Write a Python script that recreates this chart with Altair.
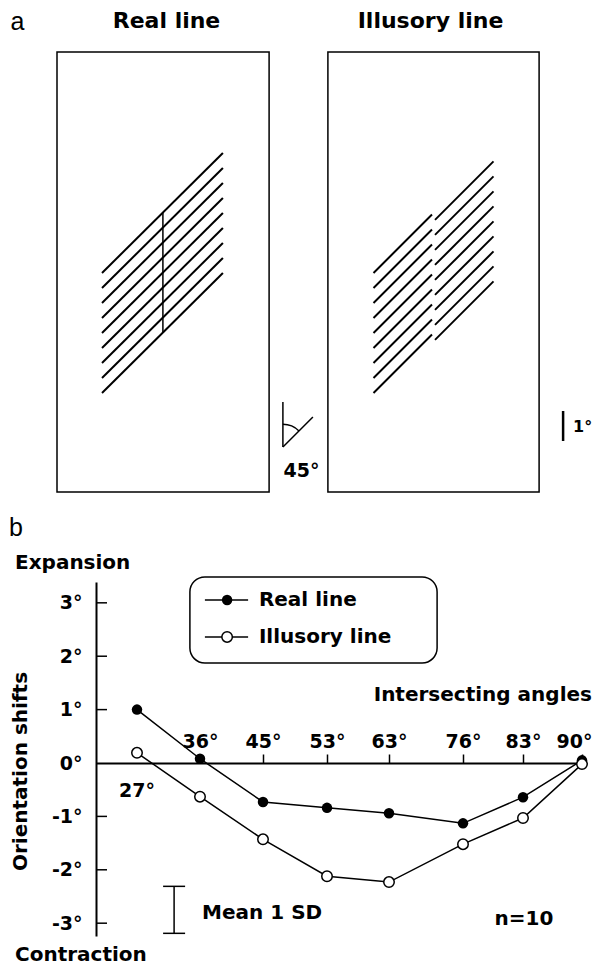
import altair as alt
import pandas as pd

# ---------------- Panel b values ----------------
angles = [27, 36, 45, 53, 63, 76, 83, 90]
real_shift = [1.00, 0.08, -0.73, -0.84, -0.94, -1.13, -0.64, 0.05]
illusory_shift = [0.19, -0.63, -1.43, -2.12, -2.23, -1.52, -1.03, -0.02]
y_tick_values = [-3, -2, -1, 0, 1, 2, 3]
y_inner_ticks = [-3, -2, -1, 1, 2, 3]
x_label_values = [36, 45, 53, 63, 76, 83, 90]
sd_angle = 32.3
sd_low = -3.19
sd_high = -2.31

# ---------------- Panel a stimulus geometry (degrees of visual angle) ----------------
frame_x0 = [0.0, 9.03]
frame_x1 = [7.07, 16.07]
frame_y0 = [0.0, 0.0]
frame_y1 = [14.67, 14.67]
line_steps = [0.0, 0.5, 1.0, 1.5, 2.0, 2.5, 3.0, 3.5, 4.0]
real_seg_x = [1.5, 5.53]
real_seg_y = [7.3, 11.3]
real_vert_x = [3.53, 3.53]
real_vert_y = [5.3, 9.3]
ill_left_x = [10.55, 12.5]
ill_left_y = [7.3, 9.25]
ill_right_x = [12.6, 14.55]
ill_right_y = [9.07, 11.02]
angle_vert_x = [7.53, 7.53]
angle_vert_y = [1.5, 3.0]
angle_diag_x = [7.53, 8.53]
angle_diag_y = [1.5, 2.5]
scalebar_x = [16.87, 16.87]
scalebar_y = [1.7, 2.7]

# ---------------- scales ----------------
A_xs = alt.Scale(domain=[0, 20], range=[-39, 561], nice=False, zero=False)
A_ys = alt.Scale(domain=[0, 20], range=[-90, -690], nice=False, zero=False)
XA = alt.X("x:Q", scale=A_xs, axis=None)
YA = alt.Y("y:Q", scale=A_ys, axis=None)

B_xs = alt.Scale(domain=[21.1] + angles,
                 range=[0, 41, 104, 167, 231, 293, 367, 427, 486],
                 nice=False, zero=False)
B_ys = alt.Scale(domain=[-3.24, 3.39], nice=False, zero=False)

BOLD = "DejaVu Sans"
x_axis = alt.Axis(orient="top", offset=-181, values=x_label_values,
                  labelExpr="datum.value + '°'", title=None, tickSize=9,
                  tickWidth=1.5, tickColor="black", domainWidth=2, domainColor="black",
                  labelFont=BOLD, labelFontWeight="bold", labelFontSize=19,
                  labelColor="black", labelPadding=3, grid=False,
                  labelFlush=True, labelFlushOffset=10, labelOverlap=False, zindex=0)
y_axis = alt.Axis(orient="left", values=y_tick_values,
                  labelExpr="datum.value + '°'", ticks=False, domainWidth=2,
                  domainColor="black", labelPadding=14, labelFont=BOLD,
                  labelFontWeight="bold", labelFontSize=19, labelColor="black",
                  title="Orientation shifts", titleX=-76, titleY=189, titleAngle=270,
                  titleAlign="center", titleBaseline="middle", titleFont=BOLD,
                  titleFontWeight="bold", titleFontSize=20, titleColor="black",
                  grid=False, labelOverlap=False, zindex=0)
XB = alt.X("angle:Q", scale=B_xs, axis=x_axis)
YB = alt.Y("shift:Q", scale=B_ys, axis=y_axis)

# ---------------- panel a layers ----------------
rows = []
for s in line_steps:
    rows.append(dict(x=real_seg_x[0], x2=real_seg_x[1], y=real_seg_y[0] - s, y2=real_seg_y[1] - s))
    rows.append(dict(x=ill_left_x[0], x2=ill_left_x[1], y=ill_left_y[0] - s, y2=ill_left_y[1] - s))
    rows.append(dict(x=ill_right_x[0], x2=ill_right_x[1], y=ill_right_y[0] - s, y2=ill_right_y[1] - s))
stim_df = pd.DataFrame(rows)
stim = alt.Chart(stim_df).mark_rule(color="black", strokeWidth=2).encode(
    x=XA, y=YA, x2="x2:Q", y2="y2:Q")

thin_df = pd.DataFrame([
    dict(x=real_vert_x[0], x2=real_vert_x[1], y=real_vert_y[0], y2=real_vert_y[1]),
    dict(x=angle_vert_x[0], x2=angle_vert_x[1], y=angle_vert_y[0], y2=angle_vert_y[1]),
    dict(x=angle_diag_x[0], x2=angle_diag_x[1], y=angle_diag_y[0], y2=angle_diag_y[1]),
])
thin = alt.Chart(thin_df).mark_rule(color="black", strokeWidth=1.5).encode(
    x=XA, y=YA, x2="x2:Q", y2="y2:Q")

bar_df = pd.DataFrame([dict(x=scalebar_x[0], x2=scalebar_x[1], y=scalebar_y[0], y2=scalebar_y[1])])
sbar = alt.Chart(bar_df).mark_rule(color="black", strokeWidth=2.5).encode(
    x=XA, y=YA, x2="x2:Q", y2="y2:Q")

frames_df = pd.DataFrame(dict(x=frame_x0, x2=frame_x1, y=frame_y0, y2=frame_y1))
frames = alt.Chart(frames_df).mark_rect(fillOpacity=0, stroke="black", strokeWidth=1.5).encode(
    x=XA, y=YA, x2="x2:Q", y2="y2:Q")

arc_df = pd.DataFrame(dict(x=[angle_vert_x[0]], y=[angle_vert_y[0]]))
arc = alt.Chart(arc_df).mark_arc(radius=23.5, radius2=22, theta=0, theta2=0.785,
                                 color="black").encode(x=XA, y=YA)

# legend box (drawn in the figure frame)
legbox_df = pd.DataFrame(dict(x=[4.43], x2=[12.67], y=[-2.83], y2=[-5.7]))
legbox = alt.Chart(legbox_df).mark_rect(fillOpacity=0, stroke="black", strokeWidth=1.5,
                                        cornerRadius=15).encode(
    x=XA, y=YA, x2="x2:Q", y2="y2:Q")
legline_df = pd.DataFrame(dict(x=[4.93, 4.93], x2=[6.37, 6.37], y=[-3.6, -4.83], y2=[-3.6, -4.83]))
legline = alt.Chart(legline_df).mark_rule(color="black", strokeWidth=1.5).encode(
    x=XA, y=YA, x2="x2:Q", y2="y2:Q")
legdot_real = alt.Chart(pd.DataFrame(dict(x=[5.67], y=[-3.6]))).mark_point(
    filled=True, color="black", size=110, opacity=1).encode(x=XA, y=YA)
legdot_ill = alt.Chart(pd.DataFrame(dict(x=[5.67], y=[-4.83]))).mark_point(
    filled=True, fill="white", stroke="black", strokeWidth=1.5, size=110, opacity=1).encode(x=XA, y=YA)

def txt(df, **kw):
    return alt.Chart(df).mark_text(color="black", **kw).encode(x=XA, y=YA, text="t:N")

letters = txt(pd.DataFrame(dict(x=[-1.55, -1.6], y=[15.67, -1.2], t=["a", "b"])),
              font="Liberation Sans", fontSize=25, align="left", baseline="middle")
titles = txt(pd.DataFrame(dict(x=[3.65, 12.45], y=[15.69, 15.69], t=["Real line", "Illusory line"])),
             font=BOLD, fontWeight="bold", fontSize=22, align="center", baseline="middle")
side = txt(pd.DataFrame(dict(x=[-1.4, -1.4], y=[-2.37, -15.43], t=["Expansion", "Contraction"])),
           font=BOLD, fontWeight="bold", fontSize=20, align="left", baseline="middle")
deg45 = txt(pd.DataFrame(dict(x=[8.15], y=[0.7], t=["45°"])),
            font=BOLD, fontWeight="bold", fontSize=19, align="center", baseline="middle")
deg1 = txt(pd.DataFrame(dict(x=[17.2], y=[2.17], t=["1°"])),
           font=BOLD, fontWeight="bold", fontSize=16, align="left", baseline="middle")
legtxt = txt(pd.DataFrame(dict(x=[6.73, 6.73], y=[-3.6, -4.83], t=["Real line", "Illusory line"])),
             font=BOLD, fontWeight="bold", fontSize=20, align="left", baseline="middle")

groupA = alt.layer(frames, stim, thin, sbar, arc, legbox, legline, legdot_real, legdot_ill,
                   letters, titles, side, deg45, deg1, legtxt)

# ---------------- panel b layers ----------------
real_df = pd.DataFrame(dict(angle=angles, shift=real_shift))
ill_df = pd.DataFrame(dict(angle=angles, shift=illusory_shift))

real_line = alt.Chart(real_df).mark_line(color="black", strokeWidth=1.5).encode(x=XB, y=YB)
real_pts = alt.Chart(real_df).mark_point(filled=True, color="black", size=110, opacity=1).encode(x=XB, y=YB)
ill_line = alt.Chart(ill_df).mark_line(color="black", strokeWidth=1.5).encode(x=XB, y=YB)
ill_pts = alt.Chart(ill_df).mark_point(filled=True, fill="white", stroke="black", strokeWidth=1.5,
                                       size=110, opacity=1).encode(x=XB, y=YB)

inner_ticks = alt.Chart(pd.DataFrame(dict(shift=y_inner_ticks))).mark_rule(
    color="black", strokeWidth=1.5).encode(x=alt.value(0), x2=alt.value(11), y=YB)

sd_df = pd.DataFrame(dict(angle=[sd_angle], shift=[sd_low], shift2=[sd_high]))
sd_rule = alt.Chart(sd_df).mark_rule(color="black", strokeWidth=1.5).encode(
    x=XB, y=YB, y2="shift2:Q")
sd_caps = alt.Chart(pd.DataFrame(dict(angle=[sd_angle, sd_angle], shift=[sd_low, sd_high]))).mark_tick(
    orient="horizontal", color="black", size=22, thickness=1.5, opacity=1).encode(x=XB, y=YB)

def txtB(df, **kw):
    return alt.Chart(df).mark_text(color="black", font=BOLD, fontWeight="bold", **kw).encode(
        x=XB, y=YB, text="t:N")

lab27 = txtB(pd.DataFrame(dict(angle=[27], shift=[0.0], t=["27°"])),
             fontSize=19, align="center", baseline="middle", dy=28)
inter = txtB(pd.DataFrame(dict(angle=[90], shift=[1.28], t=["Intersecting angles"])),
             fontSize=20, align="right", baseline="middle", dx=10)
meansd = txtB(pd.DataFrame(dict(angle=[sd_angle], shift=[-2.81], t=["Mean 1 SD"])),
              fontSize=20, align="left", baseline="middle", dx=28)
nlab = txtB(pd.DataFrame(dict(angle=[83], shift=[-2.93], t=["n=10"])),
            fontSize=20, align="center", baseline="middle", dx=1)

groupB = alt.layer(real_line, ill_line, inner_ticks, sd_rule, sd_caps, real_pts, ill_pts,
                   lab27, inter, meansd, nlab)

chart = alt.layer(groupA, groupB).resolve_scale(
    x="independent", y="independent"
).properties(
    width=486, height=354,
    autosize=alt.AutoSizeParams(type="none"),
    padding={"left": 88, "top": 574, "right": 11, "bottom": 31},
    background="white",
).configure_view(stroke=None)

chart.save("out.html", embed_options={"renderer": "svg", "actions": False})
